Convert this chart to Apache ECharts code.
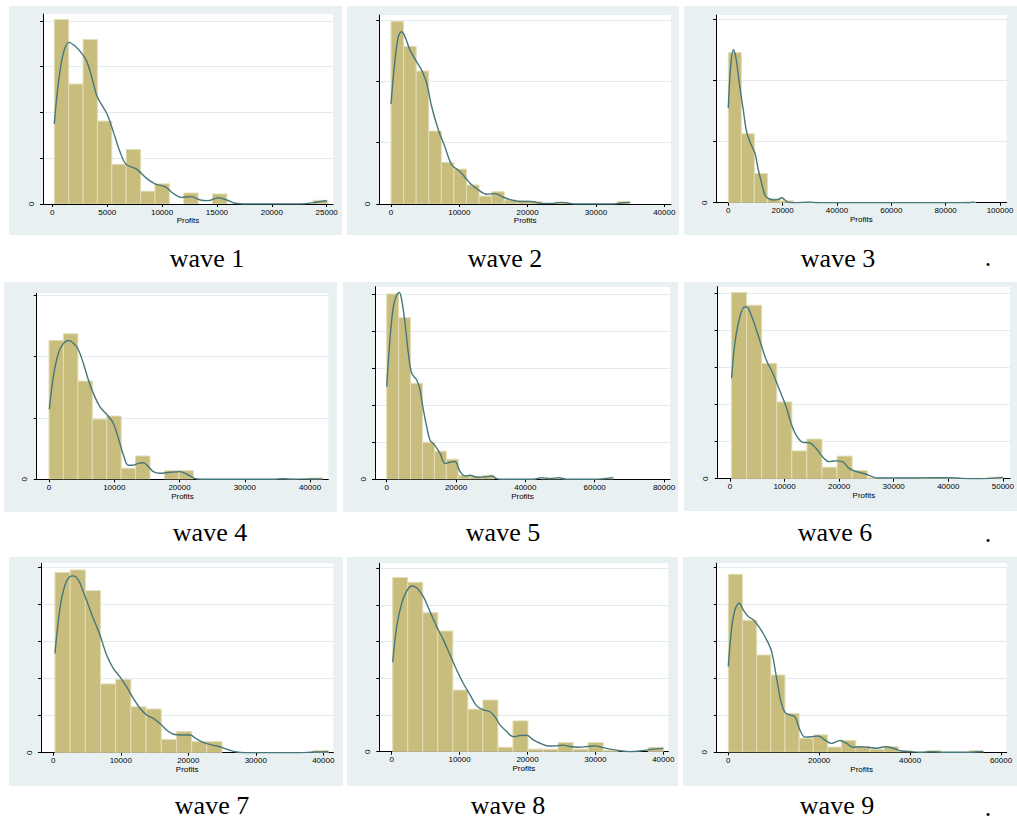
<!DOCTYPE html>
<html><head><meta charset="utf-8">
<script src="https://cdn.jsdelivr.net/npm/echarts@6/dist/echarts.min.js"></script>
<style>html,body{margin:0;padding:0;background:#fff}#c{width:1017px;height:823px}</style>
</head><body><div id="c"></div>
<script>
// ---------- DATA ----------
const waveNames = ['wave 1','wave 2','wave 3','wave 4','wave 5','wave 6','wave 7','wave 8','wave 9'];
const xAxisName = 'Profits';

// x tick labels per wave
const xTicks1 = [0,5000,10000,15000,20000,25000];
const xTicks2 = [0,10000,20000,30000,40000];
const xTicks3 = [0,20000,40000,60000,80000,100000];
const xTicks4 = [0,10000,20000,30000,40000];
const xTicks5 = [0,20000,40000,60000,80000];
const xTicks6 = [0,10000,20000,30000,40000,50000];
const xTicks7 = [0,10000,20000,30000,40000];
const xTicks8 = [0,10000,20000,30000,40000];
const xTicks9 = [0,20000,40000,60000];

// y ticks (in gridline units; only "0" is labelled)
const yTicks1 = [0,1,2,3,4];
const yTicks2 = [0,1,2,3];
const yTicks3 = [0,1,2,3];
const yTicks4 = [0,1,2,3];
const yTicks5 = [0,1,2,3,4,5];
const yTicks6 = [0,1,2,3,4,5];
const yTicks7 = [0,1,2,3,4,5];
const yTicks8 = [0,1,2,3,4,5];
const yTicks9 = [0,1,2,3,4,5];
const yLabelled = [0];

// histogram bins: start, width, heights (in gridline units)
const binStart1 = 182,  binWidth1 = 1310;
const heights1 = [4.03,2.62,3.59,1.81,0.865,1.19,0.28,0.44,0,0.24,0,0.22,0,0,0,0,0,0,0.08];
const binStart2 = 0,    binWidth2 = 1841;
const heights2 = [2.98,2.57,2.17,1.19,0.68,0.57,0.31,0.13,0.20,0.065,0.05,0.04,0,0.03,0,0,0,0,0.04];
const binStart3 = 0,    binWidth3 = 4790;
const heights3 = [2.46,1.13,0.48,0.07,0.03,0,0.01,0,0,0,0,0,0,0,0,0,0,0,0.01];
const binStart4 = 0,    binWidth4 = 2212;
const heights4 = [2.26,2.37,1.60,0.98,1.03,0.18,0.38,0,0.14,0.14,0,0,0,0,0,0,0.01,0,0.02];
const binStart5 = 0,    binWidth5 = 3440;
const heights5 = [5.0,4.36,2.59,1.0,0.76,0.54,0.10,0.07,0.11,0,0,0,0,0.03,0.03,0,0,0,0.03];
const binStart6 = 300,  binWidth6 = 2761;
const heights6 = [5.02,4.68,3.11,2.07,0.75,1.07,0.31,0.61,0.22,0.02,0.01,0.01,0.02,0.02,0.01,0,0,0.04];
const binStart7 = 247,  binWidth7 = 2250;
const heights7 = [4.87,4.94,4.38,1.86,1.98,1.24,1.18,0.36,0.57,0.30,0.30,0,0,0,0,0,0,0.06];
const binStart8 = 147,  binWidth8 = 2214;
const heights8 = [4.75,4.62,3.79,3.29,1.68,1.16,1.41,0.12,0.84,0.07,0.07,0.25,0.07,0.25,0.03,0,0,0.12];
const binStart9 = 0,    binWidth9 = 3117;
const heights9 = [4.81,3.57,2.63,2.09,1.05,0.38,0.47,0.14,0.32,0.15,0.08,0.15,0.04,0,0.05,0,0,0.05];

// kernel density curves
const kdeX1 = [182,547,1002,1519,2066,2673,3129,3584,4100,4951,5559,6166,6713,7685,8596,9356,10267,11027,11786,12697,13457,14216,15128,15887,16646,17709,22570,23785,25000];
const kdeY1 = [1.75,2.63,3.29,3.53,3.45,3.29,3.12,2.78,2.34,1.98,1.58,1.14,0.87,0.76,0.56,0.44,0.38,0.23,0.145,0.16,0.087,0.073,0.138,0.087,0.015,0,0,0.03,0.07];
const kdeX2 = [0,585,1073,1561,2049,2780,3756,4585,5220,5951,6927,7902,8878,9854,10585,11561,12780,14000,15220,16439,17659,19122,20585,22049,23512,24976,26440,28390,32293,33756,34976];
const kdeY2 = [1.63,2.35,2.73,2.81,2.73,2.51,2.32,2.16,1.97,1.59,1.21,0.93,0.64,0.55,0.47,0.34,0.23,0.16,0.17,0.11,0.065,0.04,0.04,0.01,0.01,0.027,0.005,0,0,0.016,0.027];
const kdeX3 = [0,859,1840,2822,4049,5521,6748,8221,9816,11043,12270,13497,14724,16564,18405,19632,20859,22086,24540,30061,32515,88957,90184,91000];
const kdeY3 = [1.55,2.23,2.51,2.37,1.96,1.52,1.16,0.97,0.81,0.54,0.32,0.126,0.07,0.044,0.055,0.08,0.044,0.005,0,0.01,0,0,0.01,0];
const kdeX4 = [51,664,1430,2197,2963,3729,4496,5262,6028,6794,7816,8838,9860,10626,11392,12158,12925,13691,14457,15224,15990,17011,18544,20077,21354,22631,24163,34381,35913,37190,40000,41788];
const kdeY4 = [1.14,1.67,2.05,2.21,2.26,2.22,2.11,1.89,1.62,1.40,1.18,1.06,0.91,0.67,0.40,0.23,0.23,0.26,0.27,0.21,0.125,0.098,0.114,0.125,0.07,0.005,0,0,0.01,0,0.005,0.005];
const kdeX5 = [0,962,1923,2885,3654,4327,5288,6250,7212,8654,9615,10577,11538,12500,13942,15385,16827,18269,19712,21154,22596,24038,25481,26923,28846,30288,31731,33173,42308,44712,47115,49519,51923,60577,62981,65385];
const kdeY5 = [2.5,3.80,4.66,4.97,5.04,4.84,4.21,3.40,2.86,2.68,2.41,1.87,1.42,1.06,0.91,0.70,0.43,0.46,0.48,0.21,0.09,0.11,0.07,0.054,0.07,0.09,0.018,0,0,0.045,0.018,0.045,0,0,0.018,0.045];
const kdeX6 = [303,909,1818,2727,3333,4242,5455,6667,7879,9091,10303,11212,12121,13333,14545,15758,16970,18182,19394,20606,21818,23030,24848,26061,27273,30303,33333,36970,40000,42424,45455,47879,50000];
const kdeY6 = [2.71,3.65,4.37,4.64,4.60,4.28,3.74,3.20,2.84,2.39,1.94,1.49,1.18,0.98,0.97,0.82,0.59,0.46,0.48,0.46,0.28,0.20,0.126,0.054,0.018,0.018,0.018,0.027,0.027,0.01,0,0.01,0.036];
const kdeX7 = [247,988,1728,2469,2963,3704,4444,5185,5926,6914,7901,8889,9877,10864,11852,12840,13827,14815,15802,16790,17778,19012,20247,21235,22222,23457,24691,25926,27160,28395,36543,38519,40741];
const kdeY7 = [2.68,3.90,4.53,4.76,4.78,4.67,4.35,3.99,3.63,3.18,2.64,2.28,2.05,1.78,1.47,1.20,1.02,0.93,0.79,0.61,0.50,0.48,0.48,0.37,0.28,0.21,0.16,0.08,0.018,0,0,0.018,0.027];
const kdeX8 = [147,736,1472,2209,2945,3681,4663,5644,6626,7607,8589,9571,10552,11534,12515,13497,14479,15215,15951,16933,17914,18896,19877,20859,21840,23067,24294,25276,26258,27485,28712,29939,31166,32393,33620,35092,36564,38282,40000];
const kdeY8 = [2.44,3.41,4.05,4.38,4.52,4.47,4.23,3.82,3.41,3.05,2.64,2.23,1.86,1.55,1.25,1.14,1.09,0.95,0.73,0.55,0.41,0.44,0.45,0.32,0.23,0.155,0.16,0.18,0.14,0.12,0.14,0.16,0.11,0.064,0.027,0,0.018,0.064,0.09];
const kdeX9 = [0,733,1467,2421,3301,4401,5501,6968,8435,9535,10636,11589,12469,13570,14670,15770,16870,18337,19804,21271,22738,24572,26039,27506,28973,30807,32641,34474,36308,38142,39976,42176,45110,47311,53178,55012,56112];
const kdeY9 = [2.32,3.35,3.85,4.03,3.85,3.67,3.58,3.35,3.04,2.72,2.0,1.37,1.08,1.01,0.96,0.60,0.41,0.42,0.44,0.33,0.24,0.32,0.24,0.135,0.15,0.135,0.11,0.15,0.11,0.036,0.018,0,0.018,0,0,0.018,0.018];

// ---------- LAYOUT (pixels) ----------
const layout = [
  {box:[9,6,333,229],   plot:[43,14,333,204],     x0:52.3,  xEnd:326.7, gap:45.8,  cap:[207,258]},
  {box:[347,6,332,229], plot:[379.3,15,671,204],  x0:391,   xEnd:664.3, gap:61.3,  cap:[505,258]},
  {box:[684,6,333,229], plot:[716,15,1006.7,202.7], x0:728.3, xEnd:1000, gap:61,   cap:[838,258]},
  {box:[4,282,333,230], plot:[36.7,293.3,328.3,479.3], x0:49,  xEnd:310,  gap:61.4, cap:[210,532]},
  {box:[343,282,335,230], plot:[375,286.7,670,479.3], x0:386.7, xEnd:664, gap:37.07, cap:[503,532]},
  {box:[684,282,333,229], plot:[717.7,286.7,1012.3,478.7], x0:730, xEnd:1005, gap:37.07, cap:[835,532]},
  {box:[9,557,334,229], plot:[41,563.3,333.3,752.7], x0:53.3, xEnd:323.3, gap:37,  cap:[212,805]},
  {box:[347,557,331,229], plot:[379.3,563.3,668.3,751.7], x0:391.7, xEnd:663.3, gap:36.67, cap:[508,805]},
  {box:[683,557,334,229], plot:[716.7,563.3,1006.7,752.3], x0:728.3, xEnd:1001, gap:37, cap:[837,805]}
];
const dots = [[988,257],[988,533],[988,807]];

const xTicksAll = [xTicks1,xTicks2,xTicks3,xTicks4,xTicks5,xTicks6,xTicks7,xTicks8,xTicks9];
const yTicksAll = [yTicks1,yTicks2,yTicks3,yTicks4,yTicks5,yTicks6,yTicks7,yTicks8,yTicks9];
const binStarts = [binStart1,binStart2,binStart3,binStart4,binStart5,binStart6,binStart7,binStart8,binStart9];
const binWidths = [binWidth1,binWidth2,binWidth3,binWidth4,binWidth5,binWidth6,binWidth7,binWidth8,binWidth9];
const heightsAll = [heights1,heights2,heights3,heights4,heights5,heights6,heights7,heights8,heights9];
const kdeXAll = [kdeX1,kdeX2,kdeX3,kdeX4,kdeX5,kdeX6,kdeX7,kdeX8,kdeX9];
const kdeYAll = [kdeY1,kdeY2,kdeY3,kdeY4,kdeY5,kdeY6,kdeY7,kdeY8,kdeY9];

const BG = '#E9F0F2', BAR = '#C8BD7C', BAR_EDGE = '#E3DDB6', KDE = '#46777A', GRIDLINE = '#E2EBEE';
const txt = {fontFamily:'Liberation Sans, Arial, sans-serif', fontSize:8, color:'#000'};

const grids = [], xAxes = [], yAxes = [], series = [], graphics = [];
layout.forEach((L, i) => {
  const [l,t,r,b] = L.plot;
  const ticks = xTicksAll[i];
  const lastTick = ticks[ticks.length-1];
  const k = (L.xEnd - L.x0) / lastTick;
  const xmin = -(L.x0 - l) / k;
  const xmax = lastTick + (r - L.xEnd) / k;
  const ymax = (b - t) / L.gap;
  grids.push({left:l, top:t, width:r-l, height:b-t, show:true, backgroundColor:'#fff', borderWidth:0, containLabel:false});
  xAxes.push({
    gridIndex:i, type:'value', min:xmin, max:xmax,
    axisLine:{show:true, onZero:false, lineStyle:{color:'#000', width:1}},
    axisTick:{show:true, customValues:ticks, length:3, lineStyle:{color:'#000', width:1}},
    axisLabel:Object.assign({customValues:ticks, margin:4, formatter:v=>String(v)}, txt),
    splitLine:{show:false},
    name:xAxisName, nameLocation:'middle', nameGap:12, nameTextStyle:Object.assign({}, txt)
  });
  yAxes.push({
    gridIndex:i, type:'value', min:0, max:ymax, interval:1,
    axisLine:{show:true, onZero:false, lineStyle:{color:'#000', width:1}},
    axisTick:{show:true, customValues:yTicksAll[i], length:3, lineStyle:{color:'#000', width:1}},
    axisLabel:Object.assign({customValues:yLabelled, rotate:90, margin:8}, txt),
    splitLine:{show:true, lineStyle:{color:GRIDLINE, width:1}}
  });
  const s0 = binStarts[i], w = binWidths[i];
  series.push({
    type:'custom', xAxisIndex:i, yAxisIndex:i, clip:true,
    data: heightsAll[i].map((h,j)=>[s0 + j*w, s0 + (j+1)*w, h]),
    encode:{x:[0,1], y:2},
    renderItem:(params, api) => {
      const h = api.value(2);
      if (!h) return null;
      const p0 = api.coord([api.value(0), h]);
      const p1 = api.coord([api.value(1), 0]);
      return {type:'rect', shape:{x:p0[0], y:p0[1], width:p1[0]-p0[0], height:p1[1]-p0[1]},
              style:{fill:BAR, stroke:BAR_EDGE, lineWidth:1}};
    }
  });
  series.push({
    type:'line', xAxisIndex:i, yAxisIndex:i, smooth:0.35, showSymbol:false, symbol:'none', z:5,
    data: kdeXAll[i].map((x,j)=>[x, kdeYAll[i][j]]),
    lineStyle:{color:KDE, width:1.4}
  });
  graphics.push({type:'rect', z:-10, shape:{x:L.box[0], y:L.box[1], width:L.box[2], height:L.box[3]}, style:{fill:BG}});
  graphics.push({type:'text', z:10, x:L.cap[0], y:L.cap[1],
    style:{text:waveNames[i], fontFamily:'Liberation Serif, Times New Roman, serif', fontSize:26, fill:'#000', textAlign:'center', textVerticalAlign:'middle'}});
});
dots.forEach(d => graphics.push({type:'text', z:10, x:d[0], y:d[1],
  style:{text:'.', fontFamily:'Liberation Serif, serif', fontSize:26, fill:'#000', textAlign:'center', textVerticalAlign:'middle'}}));

const chart = echarts.init(document.getElementById('c'), null, {renderer:'svg'});
chart.setOption({
  animation:false,
  backgroundColor:'#fff',
  grid:grids, xAxis:xAxes, yAxis:yAxes, series:series,
  graphic:{elements:graphics}
});
</script></body></html>
